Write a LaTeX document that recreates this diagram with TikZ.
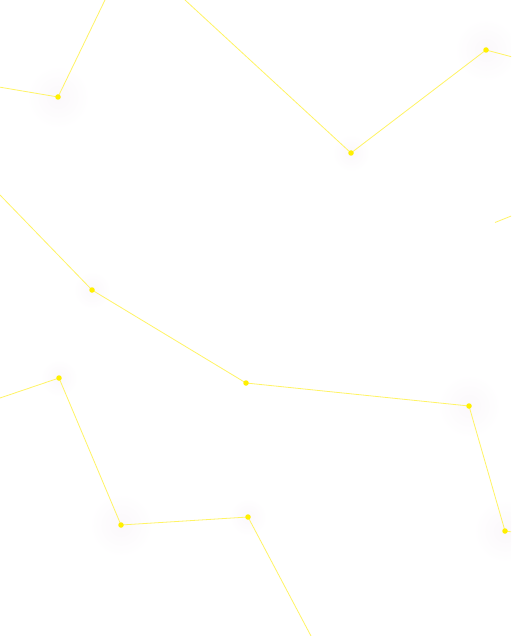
\documentclass[tikz,border=0pt]{standalone}
\definecolor{dotyellow}{RGB}{255,240,0}
\definecolor{lineyellow}{RGB}{255,244,100}
\definecolor{halocol}{RGB}{251,248,251}
\begin{document}
\begin{tikzpicture}[x=1pt,y=-1pt,
  dot/.style={circle,fill=dotyellow,inner sep=0pt,minimum size=5.5pt},
  link/.style={draw=lineyellow,line width=0.8pt},
  halobig/.style={circle,inner sep=0pt,minimum size=64pt,inner color=halocol,outer color=white},
  halosmall/.style={circle,inner sep=0pt,minimum size=38pt,inner color=halocol,outer color=white}]
\useasboundingbox (0,0) rectangle (511,636);
\fill[white] (0,0) rectangle (511,636);
\clip (0,0) rectangle (511,636);
% halos
\node[halobig] (hA) at (58,97) {};
\node[halosmall] (hB) at (351,153) {};
\node[halobig] (hC) at (486,50) {};
\node[halosmall] (hD) at (92,290) {};
\node[halobig] (hF) at (469,406) {};
\node[halobig] (hG) at (505,531) {};
\node[halosmall] (hH) at (59,378) {};
\node[halobig] (hI) at (121,525) {};
\node[halosmall] (hJ) at (248,517) {};
% free ends
\coordinate (a0) at (-10,85.5);
\coordinate (a1) at (105,0);
\coordinate (b0) at (185,0);
\coordinate (c1) at (520,59);
\coordinate (s0) at (495,222.5);
\coordinate (s1) at (520,212.5);
\coordinate (d0) at (0,195);
\coordinate (g1) at (520,533);
\coordinate (h0) at (0,398);
\coordinate (j1) at (311,636);
% dot positions
\coordinate (A) at (58,97);
\coordinate (B) at (351,153);
\coordinate (C) at (486,50);
\coordinate (D) at (92,290);
\coordinate (E) at (246,383);
\coordinate (F) at (469,406);
\coordinate (G) at (505,531);
\coordinate (H) at (59,378);
\coordinate (I) at (121,525);
\coordinate (J) at (248,517);
% links
\draw[link] (a0) -- (A) -- (a1);
\draw[link] (b0) -- (B) -- (C) -- (c1);
\draw[link] (s0) -- (s1);
\draw[link] (d0) -- (D) -- (E) -- (F) -- (G) -- (g1);
\draw[link] (h0) -- (H) -- (I) -- (J) -- (j1);
% dots on top
\foreach \n in {A,B,C,D,E,F,G,H,I,J} \node[dot] (dot\n) at (\n) {};
\end{tikzpicture}
\end{document}
